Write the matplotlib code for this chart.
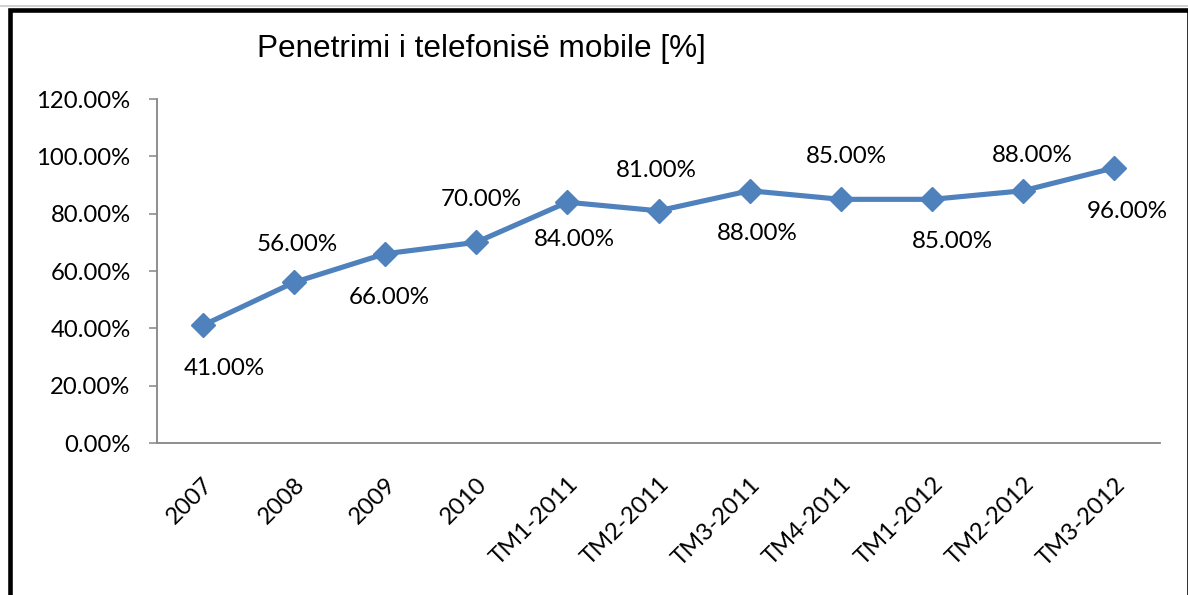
import matplotlib
matplotlib.use("Agg")
import matplotlib.pyplot as plt
from matplotlib.patches import Rectangle
from matplotlib.lines import Line2D
from matplotlib.transforms import ScaledTranslation

categories = ["2007", "2008", "2009", "2010", "TM1-2011", "TM2-2011", "TM3-2011",
              "TM4-2011", "TM1-2012", "TM2-2012", "TM3-2012"]
penetration = [41.0, 56.0, 66.0, 70.0, 84.0, 81.0, 88.0, 85.0, 85.0, 88.0, 96.0]
y_ticks = [0, 20, 40, 60, 80, 100, 120]
title = "Penetrimi i telefonisë mobile [%]"

# label offsets in pixels (dx, dy up) relative to each point
label_offsets = [(22, -43), (3, 38), (4, -44), (5, 43), (7, -37), (-2, 40),
                 (8, -43), (6, 43), (20, -42), (9, 35), (13, -44)]

W, H = 1188, 595
fig = plt.figure(figsize=(W / 100, H / 100), dpi=100)
fig.patch.set_facecolor("white")

ax = fig.add_axes([157 / W, 1 - 443 / H, (1160 - 157) / W, (443 - 99) / H])
x = list(range(len(categories)))
ax.plot(x, penetration, color="#4F81BD", linewidth=3.7, marker="D",
        markersize=12.5, markerfacecolor="#4F81BD", markeredgecolor="#4F81BD",
        solid_joinstyle="round", zorder=3)

ax.set_xlim(-0.5, len(categories) - 0.5)
ax.set_ylim(0, 120)
ax.set_yticks(y_ticks)
ax.set_yticklabels([f"{v:.2f}%" for v in y_ticks], fontfamily="Lato", fontsize=17.2)
ax.set_xticks(x)
ax.set_xticklabels(categories, rotation=45, ha="right", va="top",
                   rotation_mode="anchor", fontfamily="Lato", fontsize=17.2)
shift = ScaledTranslation(-7 / 100, 3 / 100, fig.dpi_scale_trans)
for lbl in ax.get_xticklabels():
    lbl.set_transform(lbl.get_transform() + shift)

for s in ["top", "right"]:
    ax.spines[s].set_visible(False)
for s in ["left", "bottom"]:
    ax.spines[s].set_color("#868686")
    ax.spines[s].set_linewidth(1.3)
ax.tick_params(axis="y", direction="out", length=6, width=1.1, color="#868686", pad=13)
ax.tick_params(axis="x", length=0, pad=22)

for xi, v, (dx, dy) in zip(x, penetration, label_offsets):
    ax.annotate(f"{v:.2f}%", (xi, v), xytext=(dx * 0.72, dy * 0.72),
                textcoords="offset points", ha="center", va="center",
                fontfamily="Lato", fontsize=17.4, color="black")

fig.text(481 / W, 1 - 57.3 / H, title, ha="center", va="baseline",
         fontfamily="Liberation Sans", fontsize=22.7, color="black")

# outer border
fig.add_artist(Line2D([0, 1], [1 - 6 / H, 1 - 6 / H], transform=fig.transFigure,
                      color="#C8C8C8", linewidth=1.2))
fig.add_artist(Rectangle((10.3 / W, -20 / H), (1188.5 - 10.3) / W, (595 - 10.3 + 20) / H,
                         transform=fig.transFigure, fill=False,
                         edgecolor="black", linewidth=3.3))

fig.savefig("out.png", dpi=100)
